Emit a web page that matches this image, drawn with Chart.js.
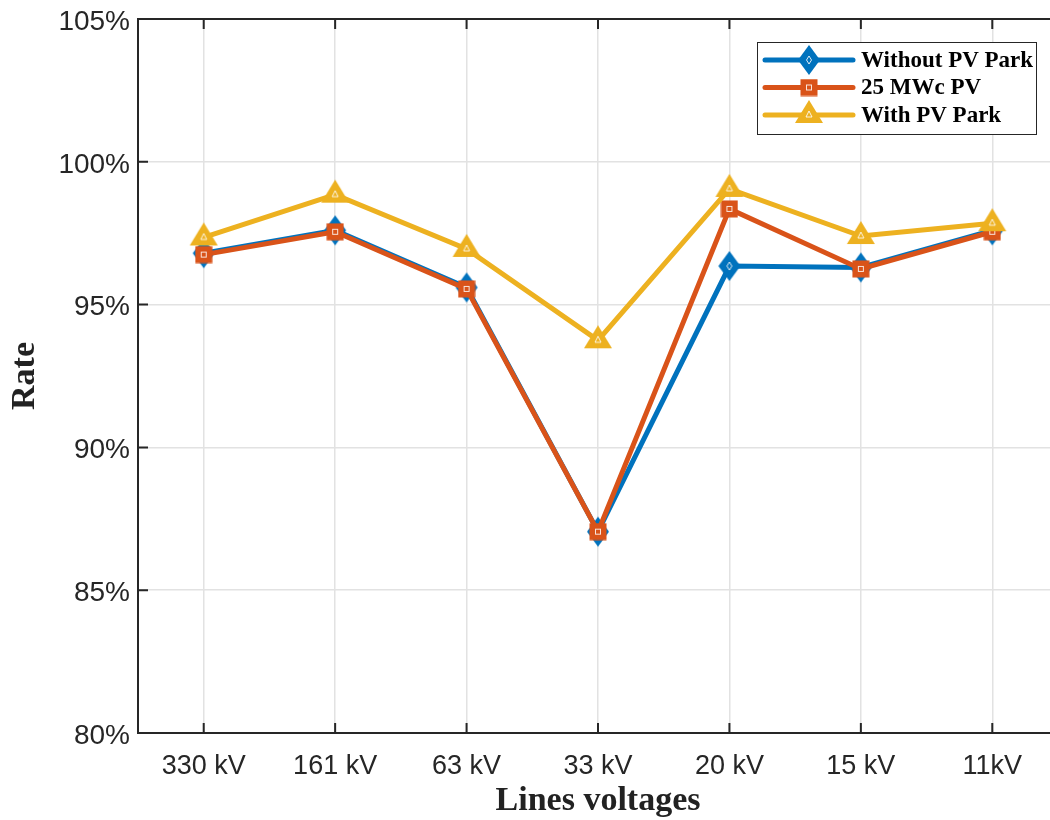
<!DOCTYPE html>
<html>
<head>
<meta charset="utf-8">
<title>Rate by line voltage</title>
<script src="https://cdn.jsdelivr.net/npm/chart.js@4.4.1/dist/chart.umd.min.js"></script>
<style>
  html, body { margin: 0; padding: 0; background: #fff; overflow: hidden; }
  #rateChart { position: absolute; left: 0; top: 0; }
</style>
</head>
<body>
<canvas id="rateChart" width="1060" height="820"></canvas>
<script>
// Data (percent)
const voltages = ['330 kV', '161 kV', '63 kV', '33 kV', '20 kV', '15 kV', '11kV'];
const withoutPvPark = [96.8, 97.6, 95.6, 87.05, 96.35, 96.3, 97.6];
const mwc25Pv = [96.75, 97.55, 95.55, 87.05, 98.35, 96.25, 97.55];
const withPvPark = [97.35, 98.85, 96.95, 93.75, 99.05, 97.4, 97.85];
const seriesNames = ['Without PV Park', '25 MWc PV', 'With PV Park'];
const yTicks = [80, 85, 90, 95, 100, 105];

const BLUE = '#0072BD', ORANGE = '#D95319', YELLOW = '#EDB120';
const AXIS = '#262626';

// MATLAB-like markers drawn once on small canvases
function makeMarker(kind, color) {
    const c = document.createElement('canvas');
    if (kind === 'diamond') { c.width = 24; c.height = 32; }
    else if (kind === 'square') { c.width = 18; c.height = 18; }
    else { c.width = 30; c.height = 34; }
    const g = c.getContext('2d');
    g.fillStyle = color;
    g.strokeStyle = 'rgba(255,255,255,0.85)';
    g.lineWidth = 1;
    if (kind === 'diamond') {
        g.beginPath();
        g.moveTo(12, 1); g.lineTo(23, 16); g.lineTo(12, 31); g.lineTo(1, 16);
        g.closePath(); g.fill();
        g.beginPath();
        g.moveTo(12, 12); g.lineTo(14.5, 16); g.lineTo(12, 20); g.lineTo(9.5, 16);
        g.closePath(); g.stroke();
    } else if (kind === 'square') {
        g.fillRect(0.5, 0.5, 17, 17);
        g.strokeRect(6.5, 6.5, 5, 5);
    } else {
        // triangle, data point sits near the centroid
        g.beginPath();
        g.moveTo(15, 2); g.lineTo(29, 25); g.lineTo(1, 25);
        g.closePath(); g.fill();
        g.beginPath();
        g.moveTo(15, 13); g.lineTo(18, 19); g.lineTo(12, 19);
        g.closePath(); g.stroke();
    }
    return c;
}

const markers = [makeMarker('diamond', BLUE), makeMarker('square', ORANGE), makeMarker('triangle', YELLOW)];
const colors = [BLUE, ORANGE, YELLOW];
const values = [withoutPvPark, mwc25Pv, withPvPark];

// Box frame and inward tick marks, drawn under the data like MATLAB
const framePlugin = {
    id: 'frame',
    beforeDatasetsDraw(chart) {
        const { ctx, chartArea: a, scales: { x, y } } = chart;
        ctx.save();
        ctx.strokeStyle = AXIS;
        ctx.lineWidth = 2;
        ctx.beginPath();
        ctx.moveTo(a.left, a.top);
        ctx.lineTo(chart.width, a.top);
        x.ticks.forEach((t, i) => {
            const px = x.getPixelForTick(i);
            ctx.moveTo(px, a.bottom); ctx.lineTo(px, a.bottom - 10);
            ctx.moveTo(px, a.top); ctx.lineTo(px, a.top + 10);
        });
        y.ticks.forEach((t, i) => {
            const py = y.getPixelForTick(i);
            ctx.moveTo(a.left, py); ctx.lineTo(a.left + 10, py);
        });
        ctx.stroke();
        ctx.restore();
    }
};

// Legend box with line + marker samples
const legendPlugin = {
    id: 'matLegend',
    afterDraw(chart, args, opts) {
        const ctx = chart.ctx;
        const box = opts.box;
        ctx.save();
        ctx.fillStyle = '#fff';
        ctx.fillRect(box.x, box.y, box.w, box.h);
        ctx.strokeStyle = AXIS;
        ctx.lineWidth = 1;
        ctx.strokeRect(box.x + 0.5, box.y + 0.5, box.w, box.h);
        ctx.font = 'bold 23px "Liberation Serif", "Times New Roman", serif';
        ctx.textBaseline = 'middle';
        chart.data.datasets.forEach((ds, i) => {
            const cy = box.y + 18 + i * 27.5;
            ctx.strokeStyle = ds.borderColor;
            ctx.lineWidth = 5;
            ctx.lineCap = 'round';
            ctx.beginPath();
            ctx.moveTo(box.x + 8, cy);
            ctx.lineTo(box.x + 96, cy);
            ctx.stroke();
            const m = ds.pointStyle;
            ctx.drawImage(m, box.x + 52 - m.width / 2, cy - m.height / 2);
            ctx.fillStyle = '#000';
            ctx.fillText(ds.label, box.x + 104, cy + 1);
        });
        ctx.restore();
    }
};

const ctx = document.getElementById('rateChart').getContext('2d');
const rateChart = new Chart(ctx, {
    type: 'line',
    data: {
        labels: voltages,
        datasets: values.map((v, i) => ({
            label: seriesNames[i],
            data: v,
            borderColor: colors[i],
            backgroundColor: colors[i],
            borderWidth: 5,
            pointStyle: markers[i],
            pointRadius: 12,
            pointHoverRadius: 12,
            tension: 0,
            fill: false,
            clip: false,
            order: 3 - i
        }))
    },
    options: {
        responsive: false,
        animation: false,
        events: [],
        layout: { autoPadding: false, padding: { left: 0, top: 19, right: 2, bottom: 0 } },
        scales: {
            x: {
                offset: true,
                grid: { offset: false, color: '#e2e2e2', lineWidth: 1.5, drawTicks: false },
                border: { display: true, color: AXIS, width: 2 },
                ticks: {
                    padding: 17,
                    color: AXIS,
                    font: { family: '"Liberation Sans", Arial, sans-serif', size: 27 }
                },
                title: {
                    display: true,
                    text: 'Lines voltages',
                    color: '#222',
                    padding: { top: 0, bottom: 2 },
                    font: { family: '"Liberation Serif", "Times New Roman", serif', size: 34, weight: 'bold', lineHeight: 1 }
                },
                afterFit(scale) {
                    scale.height = 87;
                    scale.paddingLeft = 0;
                    scale.paddingRight = 0;
                }
            },
            y: {
                min: 80,
                max: 105,
                afterBuildTicks(scale) { scale.ticks = yTicks.map(v => ({ value: v })); },
                grid: { color: '#e2e2e2', lineWidth: 1.5, drawTicks: false },
                border: { display: true, color: AXIS, width: 2 },
                ticks: {
                    padding: 8,
                    labelOffset: 3,
                    color: AXIS,
                    font: { family: '"Liberation Sans", Arial, sans-serif', size: 28 },
                    callback: v => v + '%'
                },
                title: {
                    display: true,
                    text: 'Rate',
                    color: '#222',
                    padding: { top: 8, bottom: 0 },
                    font: { family: '"Liberation Serif", "Times New Roman", serif', size: 34, weight: 'bold', lineHeight: 1 }
                },
                afterFit(scale) {
                    scale.width = 138;
                    scale.paddingTop = 0;
                    scale.paddingBottom = 0;
                }
            }
        },
        plugins: {
            legend: { display: false },
            tooltip: { enabled: false },
            matLegend: { box: { x: 757, y: 42, w: 279, h: 92 } }
        }
    },
    plugins: [framePlugin, legendPlugin]
});
</script>
</body>
</html>
